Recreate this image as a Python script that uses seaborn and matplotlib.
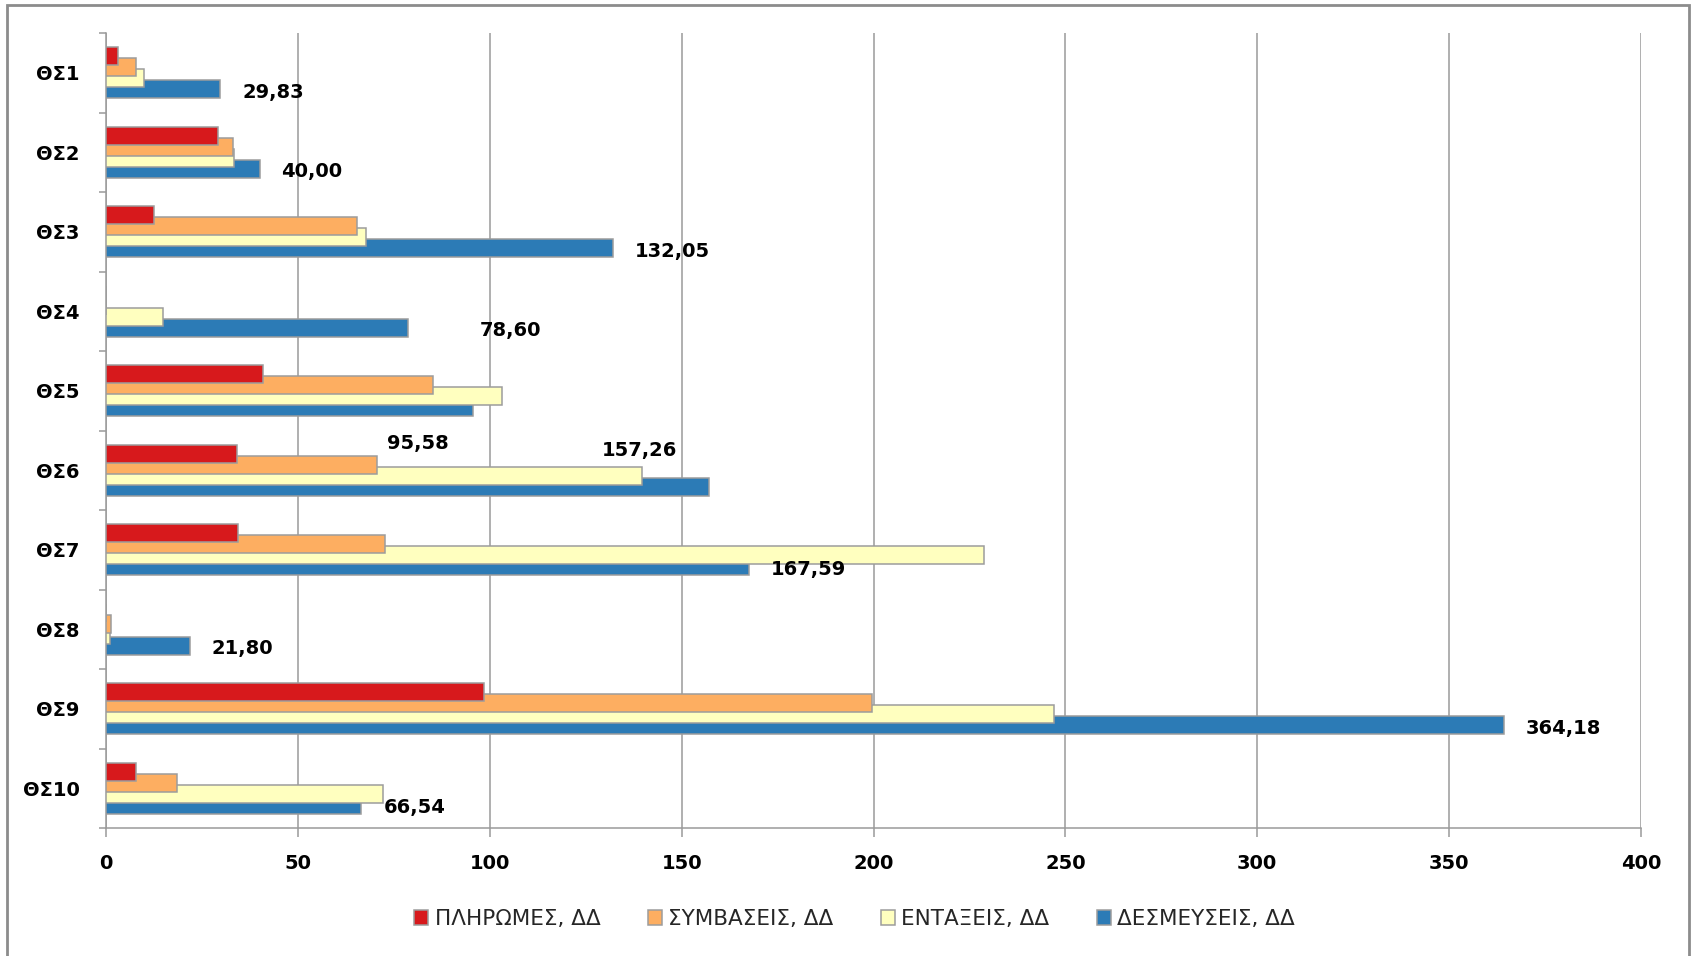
import numpy as np
import pandas as pd
import matplotlib
matplotlib.use("Agg")
import matplotlib.pyplot as plt
import seaborn as sns
from matplotlib.patches import Rectangle
from matplotlib.ticker import FixedLocator

# ---------------- data ----------------
categories = ["ΘΣ1", "ΘΣ2", "ΘΣ3", "ΘΣ4", "ΘΣ5", "ΘΣ6", "ΘΣ7", "ΘΣ8", "ΘΣ9", "ΘΣ10"]
series_names = ["ΠΛΗΡΩΜΕΣ, ΔΔ", "ΣΥΜΒΑΣΕΙΣ, ΔΔ", "ΕΝΤΑΞΕΙΣ, ΔΔ", "ΔΕΣΜΕΥΣΕΙΣ, ΔΔ"]
pliromes = [3.2, 29.1, 12.5, 0.0, 40.8, 34.2, 34.4, 0.0, 98.6, 7.8]
symvaseis = [7.9, 33.0, 65.3, 0.0, 85.1, 70.6, 72.7, 1.2, 199.5, 18.6]
entaxeis = [9.8, 33.4, 67.8, 14.9, 103.3, 139.6, 228.7, 1.0, 247.1, 72.3]
desmeyseis = [29.83, 40.00, 132.05, 78.60, 95.58, 157.26, 167.59, 21.80, 364.18, 66.54]
x_ticks = [0, 50, 100, 150, 200, 250, 300, 350, 400]

colors = ["#D7191C", "#FDAE61", "#FFFFBF", "#2C7BB6"]
# label offsets (pixels) relative to end of the blue bar
label_offsets = [(22, -3), (22, -3), (22, -3), (72, -3), (-86, -36),
                 (-108, 36), (22, -3), (22, -3), (22, -3), (22, -3)]

rows = []
for name, vals in zip(series_names, [pliromes, symvaseis, entaxeis, desmeyseis]):
    for c, v in zip(categories, vals):
        rows.append({"cat": c, "series": name, "value": v})
df = pd.DataFrame(rows)

# ---------------- figure ----------------
sns.set_style("white")
plt.rcParams["font.family"] = ["DejaVu Sans"]

W, H = 1692, 956
fig = plt.figure(figsize=(W / 100, H / 100), dpi=100)
ax = fig.add_axes([106 / W, 1 - 828 / H, (1641 - 106) / W, (828 - 33) / H])

sns.barplot(data=df, y="cat", x="value", hue="series", hue_order=series_names,
            order=categories, palette=colors, orient="h", width=0.56,
            dodge=True, saturation=1, edgecolor="#9c9c9c", linewidth=1.1,
            ax=ax, errorbar=None)

# overlapping bars (Excel-style overlap), first series on top
bar_h = 0.226
for i, cont in enumerate(ax.containers):
    for bar in cont:
        cy = bar.get_y() + bar.get_height() / 2
        bar.set_height(bar_h)
        bar.set_y(cy - bar_h / 2)
        bar.set_zorder(10 - i)

# data labels for ΔΕΣΜΕΥΣΕΙΣ
blue = ax.containers[3]
for bar, val, off in zip(blue, desmeyseis, label_offsets):
    ax.annotate(f"{val:.2f}".replace(".", ","),
                xy=(bar.get_width(), bar.get_y() + bar.get_height() / 2),
                xytext=off, textcoords="offset pixels", ha="left", va="center",
                fontsize=14, fontweight="bold", color="black", zorder=20)

# axes styling
ax.set_xlim(0, 400)
ax.set_ylim(9.5, -0.5)
ax.xaxis.set_major_locator(FixedLocator(x_ticks))
ax.set_yticks(np.arange(-0.5, 10, 1), minor=True)
ax.set_xlabel("")
ax.set_ylabel("")
ax.set_axisbelow(True)
ax.grid(axis="x", color="#9a9a9a", linewidth=1.1)
ax.grid(axis="y", visible=False)
for s in ["top", "right"]:
    ax.spines[s].set_visible(False)
for s in ["left", "bottom"]:
    ax.spines[s].set_color("#9a9a9a")
    ax.spines[s].set_linewidth(1.1)

ax.tick_params(axis="x", which="major", length=6.5, width=1.1, color="#9a9a9a",
               pad=12, labelsize=14, labelcolor="black", bottom=True)
ax.tick_params(axis="y", which="major", length=0, pad=19, labelsize=14,
               labelcolor="black", left=True)
ax.tick_params(axis="y", which="minor", length=5, width=1.1, color="#9a9a9a", left=True)
for lbl in ax.get_xticklabels() + ax.get_yticklabels():
    lbl.set_fontweight("bold")

sns.move_legend(ax, "center", bbox_to_anchor=(0.505, 1 - 919 / H),
                bbox_transform=fig.transFigure, ncol=4, frameon=False,
                title=None, fontsize=15.5, handlelength=0.65, handleheight=0.65,
                handletextpad=0.3, columnspacing=2.2)

# outer chart frame
fig.patches.append(Rectangle((7 / W, -0.02), (1689 - 7) / W, (H - 5) / H + 0.02,
                             transform=fig.transFigure, fill=False,
                             edgecolor="#8c8c8c", linewidth=2, zorder=100))

fig.savefig("out.png", dpi=100)
